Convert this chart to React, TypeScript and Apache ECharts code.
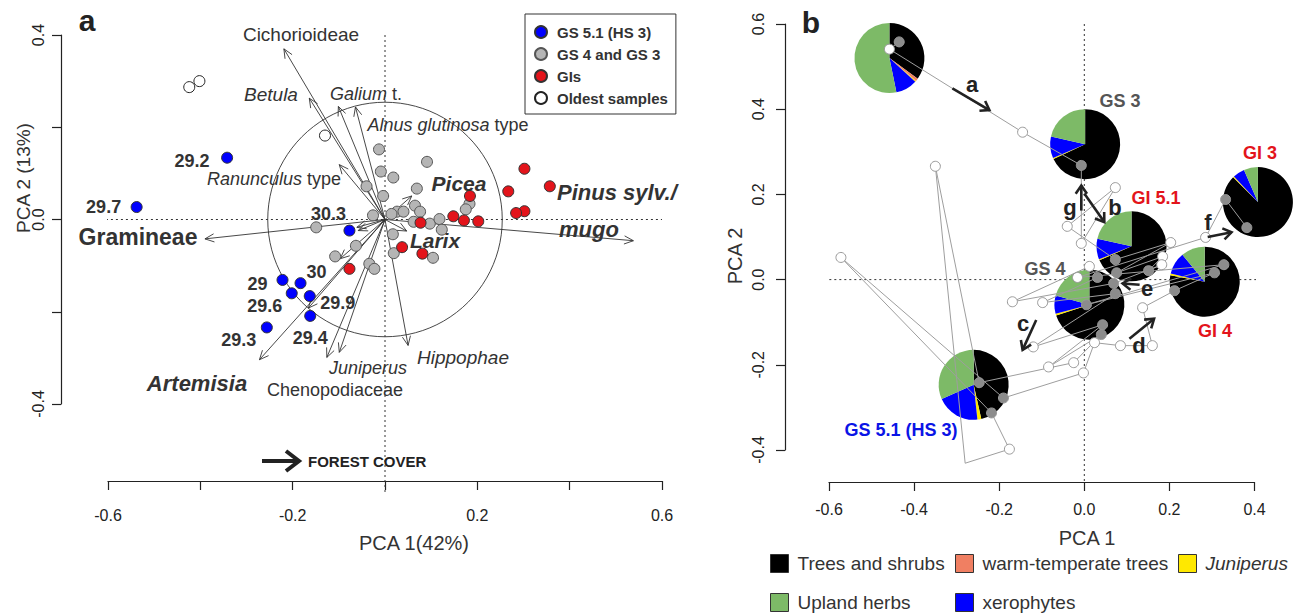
import React, { useEffect, useRef } from "react";
import * as echarts from "echarts";

const FONT = '"Liberation Sans", Arial, Helvetica, sans-serif';

// ---------- Panel a : PCA biplot ----------
const gs51Labels = ["29.2", "29.7", "30.3", "29", "30", "29.6", "29.9", "29.4", "29.3"];
const gs51X = [-0.342, -0.538, -0.077, -0.222, -0.183, -0.202, -0.163, -0.162, -0.256];
const gs51Y = [0.134, 0.027, -0.024, -0.131, -0.138, -0.16, -0.166, -0.209, -0.234];

const gs4gs3Points: number[][] = [
  [-0.013, 0.152], [0.091, 0.125], [-0.009, 0.104], [0.018, 0.091], [-0.04, 0.072],
  [0.069, 0.067], [-0.004, 0.051], [0.065, 0.03], [0.076, 0.017], [0.183, 0.034],
  [0.175, 0.022], [-0.026, 0.009], [0.026, 0.017], [0.04, 0.017], [0.014, 0.012],
  [0.062, -0.005], [0.097, -0.009], [0.118, 0.001], [0.123, -0.022], [-0.149, -0.017],
  [0.017, -0.032], [-0.063, -0.057], [-0.108, -0.08], [0.019, -0.073], [0.104, -0.083],
  [-0.034, -0.096], [-0.023, -0.107],
];
const giPoints: number[][] = [
  [0.302, 0.11], [0.357, 0.072], [0.267, 0.061], [0.184, 0.051], [0.302, 0.018],
  [0.284, 0.014], [0.148, 0.007], [0.171, -0.002], [0.202, -0.004], [0.077, -0.007],
  [0.037, -0.06], [0.081, -0.074], [-0.077, -0.107],
];
const oldestPoints: number[][] = [[-0.424, 0.287], [-0.402, 0.3], [-0.13, 0.182]];

const taxaNames = [
  "Cichorioideae", "Betula", "Galium t.", "Alnus glutinosa type", "Ranunculus type",
  "Gramineae", "Pinus sylv./mugo", "Picea", "Larix", "Hippophae", "Juniperus",
  "Chenopodiaceae", "Artemisia", "taxon 14", "taxon 15", "taxon 16", "taxon 17",
];
const taxaX = [-0.219, -0.164, -0.101, -0.064, -0.099, -0.39, 0.538, 0.058, 0.047, 0.05, -0.126, -0.099, -0.272, -0.061, -0.058, -0.097, -0.166];
const taxaY = [0.37, 0.263, 0.245, 0.244, 0.119, -0.042, -0.046, 0.051, -0.025, -0.273, -0.299, -0.288, -0.304, -0.017, -0.024, -0.085, -0.192];
const equilibriumRadius = [0.254];

// ---------- Panel b : trajectory with pies ----------
const trajX = [-0.435, -0.458, -0.145, -0.007, -0.007, 0.073, -0.04, 0.073, 0.203, 0.076, 0.184, 0.151, 0.182, 0.069, -0.169, 0.012, 0.031, -0.098, 0.073, -0.12, 0.043, -0.084, 0.04, -0.025, -0.247, -0.35, -0.28, -0.176, -0.218, -0.572, -0.19, -0.002, 0.024, 0.085, 0.16, 0.137, 0.212, 0.306, 0.005, 0.328, -0.016, 0.285, 0.332, 0.382];
const trajY = [0.558, 0.541, 0.346, 0.268, 0.085, 0.216, 0.125, 0.047, 0.087, 0.016, 0.054, 0.021, 0.035, -0.009, -0.052, 0.031, 0.005, -0.054, -0.033, -0.158, -0.106, -0.205, -0.129, -0.195, -0.242, 0.266, -0.431, -0.398, -0.313, 0.052, -0.278, -0.219, -0.148, -0.155, -0.155, -0.066, -0.026, 0.016, -0.059, 0.035, 0.005, 0.099, 0.188, 0.122];
const trajFilled = [1, 0, 0, 1, 0, 0, 0, 1, 0, 1, 0, 1, 0, 1, 0, 0, 1, 0, 1, 0, 1, 0, 1, 0, 1, 0, 0, 0, 1, 0, 1, 0, 0, 0, 0, 0, 1, 1, 1, 1, 0, 0, 1, 1];

const pieGroups = ["Oldest samples", "GS 3", "GI 5.1", "GI 3", "GI 4", "GS 4", "GS 5.1 (HS 3)"];
const pieX = [-0.458, 0.002, 0.111, 0.408, 0.283, 0.012, -0.26];
const pieY = [0.52, 0.318, 0.078, 0.182, -0.005, -0.059, -0.247];
const treesShrubs = [35, 68, 68.5, 87.5, 78, 70, 46.5];
const warmTemperate = [1.3, 0, 0, 0, 0, 0, 0];
const juniperusPct = [0.5, 0.5, 0.5, 0.5, 0.8, 0.8, 1.8];
const xerophytes = [10, 10, 9.5, 5.5, 10.2, 8.5, 20];
const uplandHerbs = [53.2, 21.5, 21.5, 6.5, 11, 20.7, 31.7];

const trendLetters = ["a", "g", "b", "f", "e", "c", "d"];
const trendFromX = [-0.31, -0.007, 0.0, 0.29, 0.13, -0.113, 0.106];
const trendFromY = [0.449, 0.162, 0.202, 0.1, -0.012, -0.095, -0.139];
const trendToX = [-0.223, -0.007, 0.047, 0.346, 0.09, -0.145, 0.164];
const trendToY = [0.398, 0.221, 0.135, 0.111, -0.009, -0.165, -0.092];

const pieCategories = [
  { name: "Trees and shrubs", values: treesShrubs, color: "#000000" },
  { name: "warm-temperate trees", values: warmTemperate, color: "#F07F62" },
  { name: "Juniperus", values: juniperusPct, color: "#FFE800" },
  { name: "xerophytes", values: xerophytes, color: "#0000FF" },
  { name: "Upland herbs", values: uplandHerbs, color: "#7DBA67" },
];

const gs51LabelOffset: Record<string, number[]> = {
  "29.2": [-35, 3], "29.7": [-33, 0], "30.3": [-21, -17], "29": [-25, 4], "30": [16, -11],
  "29.6": [-27, 13], "29.9": [28, 7], "29.4": [0, 22], "29.3": [-28, 13],
};

function txt(x: number, y: number, text: string, o: any = {}) {
  return {
    type: "text",
    x,
    y,
    rotation: o.rot || 0,
    z: 100,
    style: {
      text,
      fontFamily: FONT,
      fontSize: o.size || 18,
      fontWeight: o.weight || "normal",
      fontStyle: o.style || "normal",
      fill: o.color || "#333",
      align: o.align || "center",
      verticalAlign: "middle",
      rich: o.rich,
    },
  };
}

function arrowHead(tx: number, ty: number, ang: number, h: number, a: number) {
  return [
    [tx - h * Math.cos(ang - a), ty - h * Math.sin(ang - a)],
    [tx, ty],
    [tx - h * Math.cos(ang + a), ty - h * Math.sin(ang + a)],
  ];
}

const fmt = (v: number) => (Math.round(v * 10) / 10).toFixed(1);

export default function App() {
  const ref = useRef<HTMLDivElement>(null);
  useEffect(() => {
    document.body.style.margin = "0";
    const chart = echarts.init(ref.current!, null, { renderer: "svg" });

    const axisCommon = {
      type: "value",
      splitLine: { show: false },
      axisLine: { show: true, onZero: false, lineStyle: { color: "#222", width: 1.2 } },
      axisTick: { show: true, length: 9, lineStyle: { color: "#222", width: 1.2 } },
    };
    const labelCommon = { fontFamily: FONT, fontSize: 16, color: "#222" };

    const cum: number[][] = pieX.map(() => [0]);
    const pieSeries = pieCategories.map((cat) => {
      const data = pieX.map((px, i) => {
        const start = cum[i][0];
        const end = start + cat.values[i];
        cum[i][0] = end;
        return { name: pieGroups[i], value: [px, pieY[i], start, end] };
      });
      return {
        type: "custom",
        name: cat.name,
        xAxisIndex: 1,
        yAxisIndex: 1,
        z: 2,
        itemStyle: { color: cat.color },
        data,
        renderItem: (params: any, api: any) => {
          const c = api.coord([api.value(0), api.value(1)]);
          const s = api.value(2), e = api.value(3);
          if (e - s <= 0) return null;
          return {
            type: "sector",
            shape: {
              cx: c[0], cy: c[1], r0: 0, r: 35,
              startAngle: -Math.PI / 2 + (s / 100) * Math.PI * 2,
              endAngle: -Math.PI / 2 + (e / 100) * Math.PI * 2,
              clockwise: true,
            },
            style: { fill: cat.color, stroke: null },
          };
        },
      };
    });

    const option: any = {
      animation: false,
      backgroundColor: "#ffffff",
      grid: [
        { left: 108, top: 35, width: 554, height: 369 },
        { left: 829, top: 24, width: 425.5, height: 426 },
      ],
      xAxis: [
        {
          ...axisCommon, gridIndex: 0, min: -0.6, max: 0.6, interval: 0.2, offset: 77, position: "bottom",
          axisLabel: {
            ...labelCommon, margin: 26, hideOverlap: false,
            formatter: (v: number) => {
              const a = Math.abs(Math.round(v * 10) / 10);
              return Math.abs(a - 0.2) < 1e-6 || Math.abs(a - 0.6) < 1e-6 ? fmt(v) : "";
            },
          },
        },
        {
          ...axisCommon, gridIndex: 1, min: -0.6, max: 0.4, interval: 0.2, offset: 32, position: "bottom",
          axisLabel: { ...labelCommon, margin: 19, hideOverlap: false, formatter: fmt },
        },
      ],
      yAxis: [
        {
          ...axisCommon, gridIndex: 0, min: -0.4, max: 0.4, interval: 0.2, offset: 47, position: "left",
          axisLabel: {
            ...labelCommon, rotate: 90, margin: 15, hideOverlap: false,
            formatter: (v: number) => {
              const a = Math.abs(Math.round(v * 10) / 10);
              return a < 1e-6 || Math.abs(a - 0.4) < 1e-6 ? fmt(v) : "";
            },
          },
        },
        {
          ...axisCommon, gridIndex: 1, min: -0.4, max: 0.6, interval: 0.2, offset: 44, position: "left",
          axisLabel: { ...labelCommon, rotate: 90, margin: 19, hideOverlap: false, formatter: fmt },
        },
      ],
      legend: [
        {
          left: 525, top: 14, orient: "vertical", selectedMode: false,
          data: ["GS 5.1 (HS 3)", "GS 4 and GS 3", "GIs", "Oldest samples"],
          icon: "circle", itemWidth: 12, itemHeight: 12, itemGap: 6,
          borderColor: "#333", borderWidth: 1, padding: [10, 8, 8, 9],
          textStyle: { fontFamily: FONT, fontSize: 15, fontWeight: "bold", color: "#333", lineHeight: 16, padding: [0, 0, 0, 5] },
        },
        {
          left: 770, top: 554, orient: "vertical", selectedMode: false, padding: 0,
          data: ["Trees and shrubs", "Upland herbs"], icon: "rect", itemWidth: 18, itemHeight: 18, itemGap: 20,
          itemStyle: { borderColor: "#333", borderWidth: 1 },
          textStyle: { fontFamily: FONT, fontSize: 19, color: "#333", padding: [0, 0, 0, 4] },
        },
        {
          left: 955, top: 554, orient: "vertical", selectedMode: false, padding: 0,
          data: ["warm-temperate trees", "xerophytes"], icon: "rect", itemWidth: 18, itemHeight: 18, itemGap: 20,
          itemStyle: { borderColor: "#333", borderWidth: 1 },
          textStyle: { fontFamily: FONT, fontSize: 19, color: "#333", padding: [0, 0, 0, 4] },
        },
        {
          left: 1178, top: 554, orient: "vertical", selectedMode: false, padding: 0,
          data: ["Juniperus"], icon: "rect", itemWidth: 18, itemHeight: 18,
          itemStyle: { borderColor: "#333", borderWidth: 1 },
          formatter: (n: string) => "{i|" + n + "}",
          textStyle: {
            fontFamily: FONT, fontSize: 19, color: "#333", padding: [0, 0, 0, 4],
            rich: { i: { fontStyle: "italic", fontFamily: FONT, fontSize: 19, color: "#333" } },
          },
        },
      ],
      graphic: [
        txt(87, 20, "a", { size: 30, weight: "bold", color: "#222" }),
        txt(811, 22, "b", { size: 30, weight: "bold", color: "#222" }),
        txt(23, 178, "PCA 2 (13%)", { size: 19, rot: Math.PI / 2 }),
        txt(414, 543, "PCA 1(42%)", { size: 20 }),
        txt(735, 256, "PCA 2", { size: 20, rot: Math.PI / 2 }),
        txt(1087, 538, "PCA 1", { size: 20 }),
        txt(301, 34, "Cichorioideae", { size: 19 }),
        txt(271, 94, "Betula", { size: 19, style: "italic" }),
        txt(366, 94, "{i|Galium} t.", { size: 18, rich: { i: { fontStyle: "italic", fontSize: 18, fontFamily: FONT, fill: "#333" } } }),
        txt(448, 125, "{i|Alnus glutinosa} type", { size: 18, rich: { i: { fontStyle: "italic", fontSize: 18, fontFamily: FONT, fill: "#333" } } }),
        txt(274, 179, "{i|Ranunculus} type", { size: 18, rich: { i: { fontStyle: "italic", fontSize: 18, fontFamily: FONT, fill: "#333" } } }),
        txt(138, 237, "Gramineae", { size: 23, weight: "bold" }),
        txt(459, 183, "Picea", { size: 21, weight: "bold", style: "italic" }),
        txt(557, 192, "Pinus sylv./", { size: 22, weight: "bold", style: "italic", align: "left" }),
        txt(559, 229, "mugo", { size: 22, weight: "bold", style: "italic", align: "left" }),
        txt(435, 240, "Larix", { size: 21, weight: "bold", style: "italic" }),
        txt(463, 357, "Hippophae", { size: 19, style: "italic" }),
        txt(368, 368, "Juniperus", { size: 18, style: "italic" }),
        txt(335, 390, "Chenopodiaceae", { size: 18 }),
        txt(197, 383, "Artemisia", { size: 22, weight: "bold", style: "italic" }),
        txt(308, 461, "FOREST COVER", { size: 15, weight: "bold", align: "left", color: "#222" }),
        { type: "line", z: 100, shape: { x1: 262, y1: 461, x2: 298, y2: 461 }, style: { stroke: "#222", lineWidth: 4 } },
        { type: "polyline", z: 100, shape: { points: [[286, 451], [299, 461], [286, 471]] }, style: { stroke: "#222", lineWidth: 4, fill: null } },
        txt(1120, 101, "GS 3", { size: 18, weight: "bold", color: "#555" }),
        txt(1260, 153, "GI 3", { size: 18, weight: "bold", color: "#E3141B" }),
        txt(1156, 198, "GI 5.1", { size: 18, weight: "bold", color: "#E3141B" }),
        txt(1045, 269, "GS 4", { size: 18, weight: "bold", color: "#555" }),
        txt(1215, 331, "GI 4", { size: 18, weight: "bold", color: "#E3141B" }),
        txt(901, 430, "GS 5.1 (HS 3)", { size: 18, weight: "bold", color: "#0A14E6" }),
        txt(972, 84, "a", { size: 22, weight: "bold", color: "#222" }),
        txt(1070, 207, "g", { size: 22, weight: "bold", color: "#222" }),
        txt(1115, 207, "b", { size: 22, weight: "bold", color: "#222" }),
        txt(1208, 222, "f", { size: 22, weight: "bold", color: "#222" }),
        txt(1147, 288, "e", { size: 22, weight: "bold", color: "#222" }),
        txt(1023, 323, "c", { size: 22, weight: "bold", color: "#222" }),
        txt(1139, 345, "d", { size: 22, weight: "bold", color: "#222" }),
      ],
      series: [
        {
          type: "line", xAxisIndex: 0, yAxisIndex: 0, clip: false, symbol: "none", silent: true, z: 1,
          lineStyle: { color: "#333", width: 1, type: [2, 3] },
          data: [[-0.702, 0], [0.6, 0]],
        },
        {
          type: "line", xAxisIndex: 0, yAxisIndex: 0, clip: false, symbol: "none", silent: true, z: 1,
          lineStyle: { color: "#333", width: 1, type: [2, 3] },
          data: [[0, 0.4], [0, -0.592]],
        },
        {
          type: "line", xAxisIndex: 1, yAxisIndex: 1, clip: false, symbol: "none", silent: true, z: 1,
          lineStyle: { color: "#333", width: 1, type: [2, 3] },
          data: [[-0.705, 0], [0.494, 0]],
        },
        {
          type: "line", xAxisIndex: 1, yAxisIndex: 1, clip: false, symbol: "none", silent: true, z: 1,
          lineStyle: { color: "#333", width: 1, type: [2, 3] },
          data: [[0, 0.6], [0, -0.478]],
        },
        {
          type: "custom", xAxisIndex: 0, yAxisIndex: 0, z: 2, silent: true,
          data: equilibriumRadius.map((r) => [0, 0, r]),
          renderItem: (params: any, api: any) => {
            const c = api.coord([api.value(0), api.value(1)]);
            const r = api.size([api.value(2), 0])[0];
            return { type: "circle", shape: { cx: c[0], cy: c[1], r }, style: { stroke: "#333", lineWidth: 0.9, fill: "none" } };
          },
        },
        {
          type: "custom", name: "taxa", xAxisIndex: 0, yAxisIndex: 0, z: 3, silent: true,
          data: taxaX.map((x, i) => ({ name: taxaNames[i], value: [x, taxaY[i]] })),
          renderItem: (params: any, api: any) => {
            const o = api.coord([0, 0]);
            const t = api.coord([api.value(0), api.value(1)]);
            const ang = Math.atan2(t[1] - o[1], t[0] - o[0]);
            return {
              type: "group",
              children: [
                { type: "line", shape: { x1: o[0], y1: o[1], x2: t[0], y2: t[1] }, style: { stroke: "#333", lineWidth: 0.9 } },
                { type: "polyline", shape: { points: arrowHead(t[0], t[1], ang, 10, 0.42) }, style: { stroke: "#333", lineWidth: 0.9, fill: null } },
              ],
            };
          },
        },
        {
          type: "scatter", name: "GS 4 and GS 3", xAxisIndex: 0, yAxisIndex: 0, z: 4, symbolSize: 11,
          itemStyle: { color: "#B5B5B5", borderColor: "#555", borderWidth: 1, opacity: 1 },
          data: gs4gs3Points,
        },
        {
          type: "scatter", name: "GIs", xAxisIndex: 0, yAxisIndex: 0, z: 4, symbolSize: 11,
          itemStyle: { color: "#E3141B", borderColor: "#333", borderWidth: 1, opacity: 1 },
          data: giPoints,
        },
        {
          type: "scatter", name: "Oldest samples", xAxisIndex: 0, yAxisIndex: 0, z: 4, symbolSize: 11,
          itemStyle: { color: "#FFFFFF", borderColor: "#222", borderWidth: 1, opacity: 1 },
          data: oldestPoints,
        },
        {
          type: "scatter", name: "GS 5.1 (HS 3)", xAxisIndex: 0, yAxisIndex: 0, z: 5, symbolSize: 11,
          itemStyle: { color: "#0000FF", borderColor: "#333", borderWidth: 1, opacity: 1 },
          data: gs51X.map((x, i) => ({
            name: gs51Labels[i],
            value: [x, gs51Y[i]],
            label: {
              show: true, position: "inside", offset: gs51LabelOffset[gs51Labels[i]], formatter: "{b}",
              fontFamily: FONT, fontSize: 18, fontWeight: "bold", color: "#333",
            },
          })),
        },
        ...pieSeries,
        {
          type: "line", name: "trajectory", xAxisIndex: 1, yAxisIndex: 1, z: 6, symbol: "none", clip: false,
          lineStyle: { color: "#9E9E9E", width: 1 },
          data: trajX.map((x, i) => [x, trajY[i]]),
        },
        {
          type: "scatter", name: "open", xAxisIndex: 1, yAxisIndex: 1, z: 7, symbolSize: 10,
          itemStyle: { color: "#FFFFFF", borderColor: "#9A9A9A", borderWidth: 1, opacity: 1 },
          data: trajX.map((x, i) => [x, trajY[i]]).filter((_, i) => !trajFilled[i]),
        },
        {
          type: "scatter", name: "filled", xAxisIndex: 1, yAxisIndex: 1, z: 7, symbolSize: 10,
          itemStyle: { color: "#8C8C8C", borderColor: "#9A9A9A", borderWidth: 1, opacity: 1 },
          data: trajX.map((x, i) => [x, trajY[i]]).filter((_, i) => trajFilled[i]),
        },
        {
          type: "custom", xAxisIndex: 1, yAxisIndex: 1, z: 8, silent: true,
          data: trendLetters.map((l, i) => ({ name: l, value: [trendFromX[i], trendFromY[i], trendToX[i], trendToY[i]] })),
          renderItem: (params: any, api: any) => {
            const a = api.coord([api.value(0), api.value(1)]);
            const b = api.coord([api.value(2), api.value(3)]);
            const ang = Math.atan2(b[1] - a[1], b[0] - a[0]);
            return {
              type: "group",
              children: [
                { type: "line", shape: { x1: a[0], y1: a[1], x2: b[0], y2: b[1] }, style: { stroke: "#222", lineWidth: 2.6 } },
                { type: "polyline", shape: { points: arrowHead(b[0], b[1], ang, 10, 0.6) }, style: { stroke: "#222", lineWidth: 2.6, fill: null } },
              ],
            };
          },
        },
      ],
    };
    chart.setOption(option);
    return () => chart.dispose();
  }, []);
  return <div ref={ref} style={{ width: 1306, height: 614 }} />;
}
